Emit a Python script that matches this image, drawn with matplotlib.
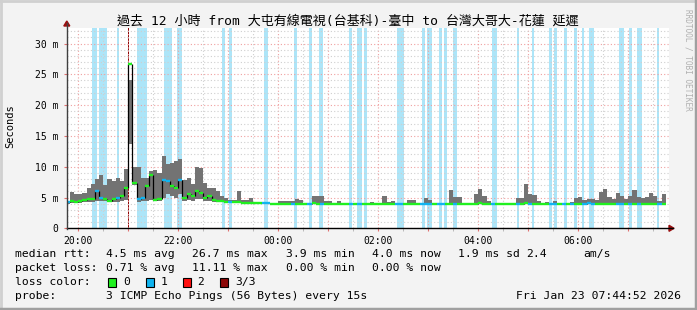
import numpy as np
import matplotlib
matplotlib.use("Agg")
import matplotlib.pyplot as plt
from matplotlib.patches import Rectangle, Polygon
from matplotlib.lines import Line2D
from matplotlib.ticker import MultipleLocator, FuncFormatter

plt.rcParams['font.family'] = ['DejaVu Sans Mono', 'Noto Sans CJK TC']

# ---------------- data ----------------
title = "過去 12 小時 from 大屯有線電視(台基科)-臺中 to 台灣大哥大-花蓮 延遲"
first_bin = "19:45"          # 5-minute bins
bin_minutes = 5

median_ms = [4.2, 4.5, 4.3, 4.4, 4.6, 4.8, 4.7, 6.0, 4.9, 4.8, 4.5, 4.7, 5.0, 5.3, 6.5,
             26.7,
             7.3, 4.8, 4.9, 6.9, 8.6, 4.6, 4.7,
             7.8, 7.6, 6.8, 6.5, 7.8,
             4.9, 5.6, 5.3, 6.0, 5.8, 5.0, 5.2, 4.6, 4.4, 4.4,
             4.3, 4.2, 4.2, 4.2, 4.1, 4.1, 4.1, 4.1, 4.1, 4.1, 4.1, 4.0, 4.0,
             3.9, 3.9, 4.0, 4.0, 4.0, 4.0, 4.0, 3.9, 4.1, 4.0, 4.0, 3.9, 4.0,
             4.0, 4.0, 4.0, 4.0, 4.0, 4.0, 4.0, 4.0, 4.0, 3.9, 4.0, 4.0,
             4.0, 4.0, 4.0, 4.0, 4.0, 3.9, 4.0, 4.0, 3.9, 4.0, 4.0, 3.9, 3.9, 4.0, 4.0, 4.0, 4.0, 4.0, 4.0, 3.9, 4.0,
             4.0, 4.0, 4.1, 4.0, 3.9, 4.0, 4.0, 4.0, 3.9, 4.0, 4.0, 4.0, 4.0, 4.1, 4.0, 4.0, 4.0, 3.9, 4.0, 4.0, 4.0, 4.0, 4.0, 4.0,
             4.0, 4.0, 4.0, 4.0, 4.1, 4.0, 4.0, 4.0, 4.0, 4.0, 4.0, 4.0, 4.0, 4.0, 4.0, 4.0, 4.0, 4.0, 4.0, 4.0, 4.0, 4.0, 4.0]

smoke_hi_ms = [4.4, 5.9, 5.6, 5.5, 5.8, 6.5, 7.2, 8.0, 8.6, 7.0, 8.0, 7.6, 8.2, 7.6, 9.7,
               24.0,
               10.0, 10.0, 8.1, 8.1, 9.3, 9.5, 9.0,
               11.8, 10.5, 10.6, 11.0, 11.3,
               7.8, 8.2, 7.2, 10.0, 9.8, 7.3, 6.6, 6.5, 6.0, 5.3,
               4.9, 4.6, 4.6, 6.0, 4.6, 4.6, 4.9, 4.2, 4.1, 4.1, 4.1, 4.1, 4.1,
               4.5, 4.5, 4.4, 4.4, 4.8, 4.6, 4.1, 4.0, 5.2, 5.2, 5.2, 4.4, 4.4,
               4.1, 4.4, 4.1, 4.1, 4.1, 4.1, 4.1, 4.1, 4.1, 4.2, 4.1, 4.1,
               5.3, 4.2, 4.4, 4.1, 4.1, 4.0, 4.6, 4.6, 4.0, 4.1, 4.9, 4.6, 4.0, 4.1, 4.1, 4.1, 6.2, 5.1, 5.1, 4.0, 4.1,
               4.1, 5.6, 6.3, 5.2, 4.5, 4.1, 4.1, 4.1, 4.0, 4.1, 4.1, 5.0, 5.0, 7.2, 5.6, 5.4, 4.4, 4.0, 4.3, 4.1, 4.4, 4.1, 4.1, 4.1,
               4.3, 5.0, 5.1, 4.6, 4.7, 4.7, 4.6, 5.9, 6.4, 5.1, 4.8, 5.7, 5.3, 4.8, 5.2, 6.2, 5.1, 5.0, 5.1, 5.7, 5.3, 4.5, 5.6]

smoke_lo_ms = [4.0, 4.1, 4.1, 4.1, 4.2, 4.3, 4.2, 4.4, 4.4, 4.4, 4.2, 4.3, 4.3, 4.4, 4.6,
               13.7,
               7.0, 4.3, 4.4, 4.4, 4.6, 4.4, 4.4,
               5.0, 5.5, 5.2, 5.0, 5.6,
               4.4, 4.6, 4.5, 4.8, 4.7, 4.4, 4.5, 4.3, 4.2, 4.2,
               4.1, 4.1, 4.1, 4.1, 4.0, 4.0, 4.0, 4.0, 4.0, 4.0, 4.0, 3.9, 3.9,
               3.8, 3.8, 3.9, 3.9, 3.9, 3.9, 3.9, 3.8, 4.0, 3.9, 3.9, 3.8, 3.9,
               3.9, 3.9, 3.9, 3.9, 3.9, 3.9, 3.9, 3.9, 3.9, 3.8, 3.9, 3.9,
               3.9, 3.9, 3.9, 3.9, 3.9, 3.8, 3.9, 3.9, 3.8, 3.9, 3.9, 3.8, 3.8, 3.9, 3.9, 3.9, 3.9, 3.9, 3.9, 3.8, 3.9,
               3.9, 3.9, 4.0, 3.9, 3.8, 3.9, 3.9, 3.9, 3.8, 3.9, 3.9, 3.9, 3.9, 4.0, 3.9, 3.9, 3.9, 3.8, 3.9, 3.9, 3.9, 3.9, 3.9, 3.9,
               3.9, 3.9, 3.9, 3.9, 4.0, 3.9, 3.9, 3.9, 3.9, 3.9, 3.9, 3.9, 3.9, 3.9, 3.9, 3.9, 3.9, 3.9, 3.9, 3.9, 3.9, 3.9, 3.9]

# bins whose median had 1 of 3 pings lost
median_loss1_bins = ["19:45", "20:20", "20:25", "20:45", "21:10", "21:15", "21:40", "21:45", "22:00",
                     "23:00", "23:40", "23:45", "00:15", "00:35", "00:50", "01:25", "01:35", "02:20",
                     "02:25", "02:50", "02:55", "03:00", "03:10", "03:15", "03:30", "04:15", "04:45",
                     "05:00", "05:25", "05:30", "05:40", "05:50", "06:05", "06:10", "06:15", "06:45",
                     "06:50", "07:00", "07:10", "07:35"]

# loss background periods (1/3 lost)
loss1_start = ["20:17", "20:25", "20:47", "21:10", "21:43", "21:59", "22:53", "23:01", "23:43",
               "00:19", "00:37", "00:49", "01:25", "01:35", "01:43", "02:22", "02:53", "02:59",
               "03:13", "03:19", "03:30", "04:17", "04:47", "05:04", "05:25", "05:31", "05:43",
               "05:55", "06:05", "06:13", "06:49", "07:01", "07:11", "07:34"]
loss1_end = ["20:23", "20:34", "20:49", "21:22", "21:52", "22:04", "22:56", "23:04", "23:48",
             "00:22", "00:40", "00:54", "01:29", "01:40", "01:46", "02:31", "02:56", "03:04",
             "03:16", "03:22", "03:34", "04:22", "04:49", "05:07", "05:28", "05:34", "05:46",
             "05:58", "06:07", "06:19", "06:55", "07:04", "07:16", "07:37"]
# loss background periods (3/3 lost)
loss3_start = ["21:00"]
loss3_end = ["21:01"]

stats_rtt = ["4.5 ms avg", "26.7 ms max", "3.9 ms min", "4.0 ms now", "1.9 ms sd", "2.4", "am/s"]
stats_loss = ["0.71 % avg", "11.11 % max", "0.00 % min", "0.00 % now"]
loss_labels = ["0", "1", "2", "3/3"]
probe_text = "3 ICMP Echo Pings (56 Bytes) every 15s"
stamp_text = "Fri Jan 23 07:44:52 2026"

# ---------------- styling ----------------
C_GREEN = "#20f020"
C_BLUE = "#10b4f0"
C_RED = "#ff1010"
C_DRED = "#8c0808"
C_BAND = "#ade5f8"
C_SMOKE = "#737373"
C_GRID_MAJ = "#f0a0a0"
C_GRID_MIN = "#cfcfcf"


def to_h(s):
    p = [int(v) for v in s.split(":")]
    h = p[0] + p[1] / 60 + (p[2] / 3600 if len(p) > 2 else 0)
    if h < 12:
        h += 24
    return h


W, H = 697, 310
fig = plt.figure(figsize=(W / 100, H / 100), dpi=100)
fig.patch.set_facecolor("#f3f3f3")


def fx(px):
    return px / W


def fy(py):
    return 1 - py / H


ax_l, ax_r, ax_t, ax_b = 66.5, 669.0, 28.0, 228.3
ax = fig.add_axes([fx(ax_l), fy(ax_b), (ax_r - ax_l) / W, (ax_b - ax_t) / H])
ax.set_facecolor("white")

px_per_h = 50.0
x0_px_of_20 = 78.3
ax.set_xlim(20 - (x0_px_of_20 - ax_l) / px_per_h, 20 + (ax_r - x0_px_of_20) / px_per_h)
px_per_ms = 6.16
ax.set_ylim(0, (ax_b - ax_t) / px_per_ms)

n = len(median_ms)
med = np.array(median_ms)
hi = np.array(smoke_hi_ms)
lo = np.array(smoke_lo_ms)
bw = bin_minutes / 60
xs = to_h(first_bin) + np.arange(n) * bw

# loss backgrounds
for a, b in zip(loss1_start, loss1_end):
    ax.axvspan(to_h(a), to_h(b), color=C_BAND, lw=0, zorder=1)
for a, b in zip(loss3_start, loss3_end):
    ax.axvspan(to_h(a), to_h(b), color=C_DRED, lw=0, zorder=1)

# smoke
ax.bar(xs, hi - lo, width=bw, bottom=lo, align="edge", color=C_SMOKE, lw=0, zorder=2)

# median
loss_set = set(round(to_h(t), 4) for t in median_loss1_bins)
cols = [C_BLUE if round(x, 4) in loss_set else C_GREEN for x in xs]
ax.vlines(xs[1:], med[:-1], med[1:], color="black", lw=0.9, zorder=3)
ax.hlines(med, xs, xs + bw, colors=cols, lw=1.7, zorder=4, capstyle="butt")

# grid
ax.set_axisbelow("line")
ax.xaxis.set_major_locator(MultipleLocator(1))
ax.xaxis.set_minor_locator(MultipleLocator(0.5))
ax.yaxis.set_major_locator(MultipleLocator(5))
ax.yaxis.set_minor_locator(MultipleLocator(1))
ax.xaxis.set_major_formatter(FuncFormatter(
    lambda v, p: f"{int(round(v)) % 24:02d}:00" if int(round(v)) % 2 == 0 else ""))
ax.yaxis.set_major_formatter(FuncFormatter(lambda v, p: "0" if v == 0 else f"{int(v)} m"))
ax.grid(which="major", color=C_GRID_MAJ, ls=(0, (1, 2)), lw=0.8)
ax.grid(which="minor", color=C_GRID_MIN, ls=(0, (1, 2)), lw=0.8)
ax.tick_params(axis="x", which="major", length=2.5, color="#e07070", labelsize=7, pad=3)
ax.tick_params(axis="x", which="minor", length=2, color="#b0b0b0")
ax.tick_params(axis="y", which="major", length=2, color="#e07070", labelsize=7, pad=4)
ax.tick_params(axis="y", which="minor", length=0)
for s in ax.spines.values():
    s.set_visible(False)

# axes lines + arrows
fig.add_artist(Line2D([fx(ax_l), fx(673)], [fy(ax_b), fy(ax_b)], color="black", lw=1))
fig.add_artist(Line2D([fx(66.8), fx(66.8)], [fy(ax_b + 1), fy(23)], color="#404040", lw=1))
fig.add_artist(Polygon([[fx(669), fy(ax_b - 3)], [fx(674), fy(ax_b)], [fx(669), fy(ax_b + 3)]],
                       closed=True, color="#9a1010", transform=fig.transFigure))
fig.add_artist(Polygon([[fx(63.8), fy(26)], [fx(66.8), fy(21)], [fx(69.8), fy(26)]],
                       closed=True, color="#9a1010", transform=fig.transFigure))

# frame
fig.add_artist(Line2D([0, 1], [fy(0.5), fy(0.5)], color="#d0d0d0", lw=2))
fig.add_artist(Line2D([fx(0.5), fx(0.5)], [0, 1], color="#d0d0d0", lw=2))
fig.add_artist(Line2D([0, 1], [fy(H - 1), fy(H - 1)], color="#a0a0a0", lw=2.5))
fig.add_artist(Line2D([fx(W - 1), fx(W - 1)], [0, 1], color="#a0a0a0", lw=2.5))

# texts
fig.text(fx(347.5), fy(21), title, ha="center", va="center", fontsize=9.4, color="black")
fig.text(fx(10), fy(126), "Seconds", rotation=90, ha="center", va="center", fontsize=7.5)
fig.text(fx(688), fy(60), "RRDTOOL / TOBI OETIKER", rotation=270, ha="center", va="center",
         fontsize=5.6, color="#b0b0b0")

fs = 8.2
row_y = [254.3, 268.3, 282.3, 296.0]
fig.text(fx(15), fy(row_y[0]), "median rtt:", fontsize=fs, va="center")
for s, xp in zip(stats_rtt, [106.5, 192.5, 286.5, 372.5, 457.5, 526, 583]):
    fig.text(fx(xp), fy(row_y[0]), s, fontsize=fs, va="center")
fig.text(fx(15), fy(row_y[1]), "packet loss:", fontsize=fs, va="center")
for s, xp in zip(stats_loss, [106.5, 192.5, 286.5, 372.5]):
    fig.text(fx(xp), fy(row_y[1]), s, fontsize=fs, va="center")
fig.text(fx(15), fy(row_y[2]), "loss color:", fontsize=fs, va="center")
for lab, c, xp in zip(loss_labels, [C_GREEN, C_BLUE, C_RED, C_DRED], [108, 145.5, 182.5, 220]):
    fig.add_artist(Rectangle((fx(xp), fy(row_y[2] + 4.2)), 8 / W, 8.4 / H, facecolor=c,
                             edgecolor="black", lw=0.8, transform=fig.transFigure))
    fig.text(fx(xp + 15), fy(row_y[2]), lab, fontsize=fs, va="center")
fig.text(fx(15), fy(row_y[3]), "probe:", fontsize=fs, va="center")
fig.text(fx(106.5), fy(row_y[3]), probe_text, fontsize=fs, va="center")
fig.text(fx(681), fy(row_y[3]), stamp_text, fontsize=fs, va="center", ha="right")

fig.savefig("out.png", dpi=100, facecolor=fig.get_facecolor())
